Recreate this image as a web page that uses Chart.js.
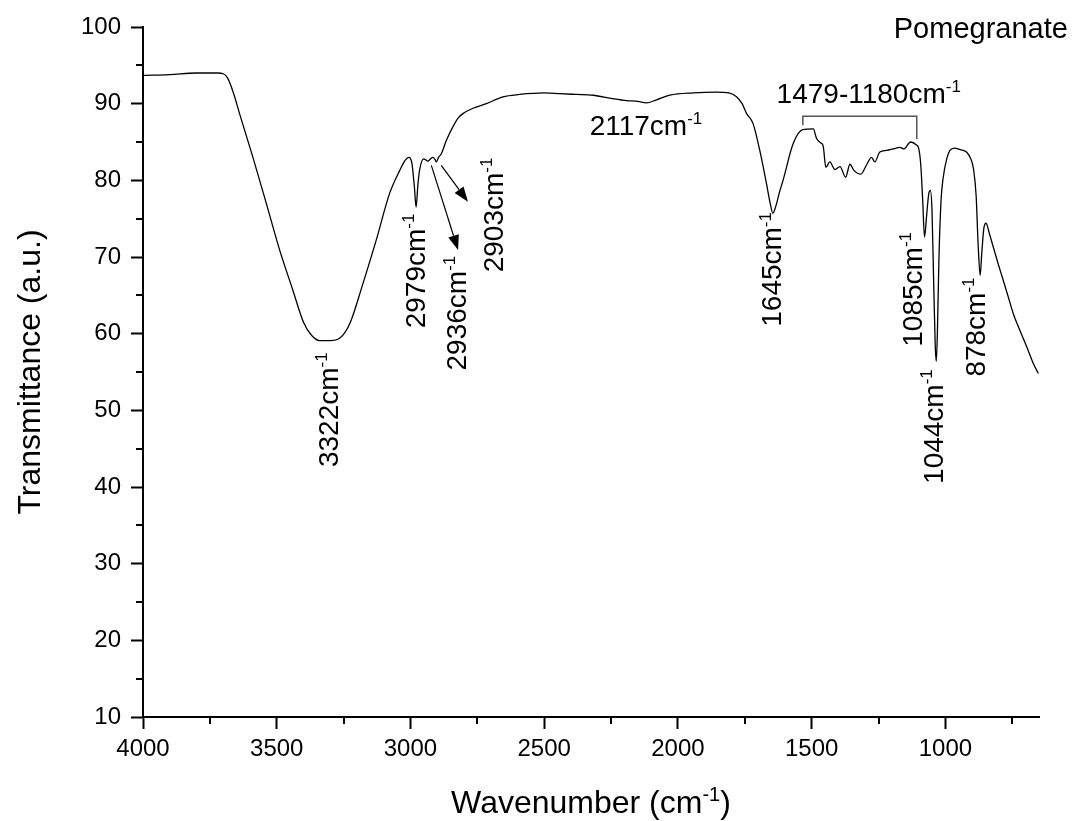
<!DOCTYPE html>
<html>
<head>
<meta charset="utf-8">
<script src="https://cdn.jsdelivr.net/npm/chart.js@4"></script>
<style>
  body { margin: 0; background: #fff; }
  #wrap { width: 1075px; height: 821px; }
</style>
</head>
<body>
<div id="wrap"><canvas id="ftir" width="1075" height="821"></canvas></div>
<script>
// FTIR spectrum
var wavenumber = [
  4000, 3900, 3800, 3720, 3700, 3683, 3660, 3639, 3589, 3539, 3489, 3440, 3400, 3370, 3340, 3300,
  3265, 3227, 3178, 3128, 3078, 3040, 3020, 3006, 2995, 2985, 2979, 2972, 2966, 2951, 2940, 2935,
  2925, 2916, 2908, 2903, 2895, 2884, 2866, 2841, 2820, 2804, 2766, 2716, 2654, 2592, 2500, 2442,
  2380, 2317, 2250, 2192, 2150, 2118, 2080, 2030, 1943, 1856, 1810, 1781, 1760, 1743, 1719, 1694,
  1669, 1655, 1645, 1635, 1620, 1607, 1569, 1533, 1494, 1482, 1467, 1457, 1447, 1432, 1413, 1394,
  1373, 1357, 1342, 1316, 1295, 1276, 1264, 1245, 1220, 1195, 1170, 1155, 1130, 1108, 1100, 1092,
  1085, 1078, 1070, 1062, 1056, 1050, 1044, 1038, 1034, 1030, 1024, 1016, 1008, 995, 983, 965,
  945, 921, 905, 895, 885, 878, 870, 864, 856, 848, 835, 821, 800, 784, 765, 746,
  720, 696, 670, 652
];
var transmittance = [
  93.7, 93.8, 94.0, 94.0, 93.9, 93.3, 91.2, 88.7, 83.0, 77.0, 70.9, 65.7, 61.5, 59.8, 59.1, 59.1,
  59.4, 61.3, 66.5, 72.2, 78.3, 81.3, 82.6, 83.0, 82.3, 79.0, 76.5, 79.5, 81.3, 82.8, 82.6, 82.5,
  82.8, 83.0, 82.7, 82.4, 83.0, 83.5, 85.2, 87.0, 88.2, 88.7, 89.4, 90.0, 90.9, 91.2, 91.4, 91.3,
  91.2, 91.1, 90.7, 90.4, 90.3, 90.1, 90.5, 91.1, 91.4, 91.5, 91.4, 90.9, 90.0, 88.7, 87.4, 83.9,
  79.6, 77.0, 75.7, 76.5, 78.5, 80.0, 84.8, 86.6, 86.7, 85.5, 84.9, 84.5, 81.7, 82.4, 81.4, 81.8,
  80.4, 82.1, 81.3, 80.8, 82.0, 83.0, 82.4, 83.7, 83.9, 84.1, 84.3, 84.1, 85.0, 84.6, 84.2, 82.0,
  77.5, 72.6, 75.5, 78.3, 78.7, 76.0, 67.0, 58.5, 56.4, 60.0, 70.0, 77.5, 80.4, 82.8, 83.9, 84.2,
  84.0, 83.7, 82.8, 81.5, 78.0, 72.0, 67.6, 70.5, 73.8, 74.4, 73.0, 71.3, 68.8, 67.0, 64.8, 62.6,
  60.3, 58.3, 56.0, 54.8
];

var xMajorTicks = [4000, 3500, 3000, 2500, 2000, 1500, 1000];
var xMinorTicks = [3750, 3250, 2750, 2250, 1750, 1250, 750];
var yMajorTicks = [10, 20, 30, 40, 50, 60, 70, 80, 90, 100];
var yMinorTicks = [15, 25, 35, 45, 55, 65, 75, 85, 95];

// peak labels (rotated), anchored at baseline start in data units
var peakNames = ['3322', '2979', '2936', '2903', '1645', '1085', '1044', '878'];
var peakLabelWn = [3271, 2947, 2791, 2654, 1613, 1089, 1008, 852];
var peakLabelT = [42.6, 60.7, 55.2, 68.0, 60.9, 58.3, 40.4, 54.4];

var FONT = '"Liberation Sans", Arial, sans-serif';

function drawParts(ctx, parts, x, y, size, angle, align) {
  var supSize = Math.round(size * 0.62);
  var widths = parts.map(function (p) {
    ctx.font = (p.sup ? supSize : size) + 'px ' + FONT;
    return ctx.measureText(p.t).width;
  });
  var total = widths.reduce(function (a, b) { return a + b; }, 0);
  var cx = align === 'center' ? -total / 2 : (align === 'right' ? -total : 0);
  ctx.save();
  ctx.translate(x, y);
  ctx.rotate(angle);
  ctx.fillStyle = '#000';
  ctx.textAlign = 'left';
  ctx.textBaseline = 'alphabetic';
  parts.forEach(function (p, i) {
    ctx.font = (p.sup ? supSize : size) + 'px ' + FONT;
    ctx.fillText(p.t, cx, p.sup ? -size * 0.39 : 0);
    cx += widths[i];
  });
  ctx.restore();
}

function arrow(ctx, x1, y1, x2, y2) {
  var a = Math.atan2(y2 - y1, x2 - x1);
  var len = 15, half = 5.5;
  var bx = x2 - len * Math.cos(a), by = y2 - len * Math.sin(a);
  ctx.beginPath();
  ctx.moveTo(x1, y1);
  ctx.lineTo(bx, by);
  ctx.stroke();
  ctx.beginPath();
  ctx.moveTo(x2, y2);
  ctx.lineTo(bx + half * Math.sin(a), by - half * Math.cos(a));
  ctx.lineTo(bx - half * Math.sin(a), by + half * Math.cos(a));
  ctx.closePath();
  ctx.fill();
}

var overlay = {
  id: 'overlay',
  afterDraw: function (chart) {
    var ctx = chart.ctx;
    var xs = chart.scales.x, ys = chart.scales.y;
    var area = chart.chartArea;

    // minor ticks
    ctx.save();
    ctx.strokeStyle = '#000';
    ctx.lineWidth = 2;
    xMinorTicks.forEach(function (v) {
      var px = Math.round(xs.getPixelForValue(v));
      ctx.beginPath();
      ctx.moveTo(px, area.bottom);
      ctx.lineTo(px, area.bottom + 7);
      ctx.stroke();
    });
    yMinorTicks.forEach(function (v) {
      var py = Math.round(ys.getPixelForValue(v));
      ctx.beginPath();
      ctx.moveTo(area.left, py);
      ctx.lineTo(area.left - 7, py);
      ctx.stroke();
    });
    ctx.restore();

    // axis titles
    drawParts(ctx, [{ t: 'Transmittance (a.u.)' }], 40, (area.top + area.bottom) / 2, 32, -Math.PI / 2, 'center');
    drawParts(ctx, [{ t: 'Wavenumber (cm' }, { t: '-1', sup: true }, { t: ')' }],
      (area.left + area.right) / 2, 813, 32, 0, 'center');

    // sample name
    drawParts(ctx, [{ t: 'Pomegranate' }], xs.getPixelForValue(542), ys.getPixelForValue(98.6), 29, 0, 'right');

    // peak labels
    for (var i = 0; i < peakNames.length; i++) {
      drawParts(ctx, [{ t: peakNames[i] + 'cm' }, { t: '-1', sup: true }],
        xs.getPixelForValue(peakLabelWn[i]), ys.getPixelForValue(peakLabelT[i]), 28, -Math.PI / 2, 'left');
    }
    drawParts(ctx, [{ t: '2117cm' }, { t: '-1', sup: true }],
      xs.getPixelForValue(2330), ys.getPixelForValue(85.9), 28, 0, 'left');
    drawParts(ctx, [{ t: '1479-1180cm' }, { t: '-1', sup: true }],
      xs.getPixelForValue(1631), ys.getPixelForValue(90.1), 28, 0, 'left');

    // bracket over 1479-1180 region
    ctx.save();
    ctx.strokeStyle = '#555';
    ctx.lineWidth = 1.5;
    ctx.beginPath();
    ctx.moveTo(xs.getPixelForValue(1533), ys.getPixelForValue(87.2));
    ctx.lineTo(xs.getPixelForValue(1533), ys.getPixelForValue(88.35));
    ctx.lineTo(xs.getPixelForValue(1107), ys.getPixelForValue(88.35));
    ctx.lineTo(xs.getPixelForValue(1107), ys.getPixelForValue(85.35));
    ctx.stroke();
    ctx.restore();

    // arrows to 2936 / 2903
    ctx.save();
    ctx.strokeStyle = '#000';
    ctx.fillStyle = '#000';
    ctx.lineWidth = 1.2;
    arrow(ctx, xs.getPixelForValue(2922), ys.getPixelForValue(81.96), xs.getPixelForValue(2822), ys.getPixelForValue(70.9));
    arrow(ctx, xs.getPixelForValue(2885), ys.getPixelForValue(81.96), xs.getPixelForValue(2785), ys.getPixelForValue(77.2));
    ctx.restore();
  }
};

var points = wavenumber.map(function (w, i) { return { x: w, y: transmittance[i] }; });

var ctx = document.getElementById('ftir').getContext('2d');
var chart = new Chart(ctx, {
  type: 'line',
  data: {
    datasets: [{
      label: 'Pomegranate',
      data: points,
      borderColor: '#000',
      borderWidth: 1.3,
      pointRadius: 0,
      fill: false,
      cubicInterpolationMode: 'monotone'
    }]
  },
  options: {
    responsive: false,
    animation: false,
    layout: { padding: { top: 27, right: 36, left: 0, bottom: 0 } },
    plugins: { legend: { display: false }, tooltip: { enabled: false } },
    scales: {
      x: {
        type: 'linear',
        reverse: true,
        min: 650,
        max: 4000,
        afterFit: function (scale) { scale.height = 104; },
        afterBuildTicks: function (scale) {
          scale.ticks = xMajorTicks.map(function (v) { return { value: v }; });
        },
        grid: { display: true, drawOnChartArea: false, tickLength: 12, tickWidth: 2, tickColor: '#000' },
        border: { display: true, color: '#000', width: 2 },
        ticks: {
          color: '#000', font: { family: FONT, size: 24 }, padding: 6, maxRotation: 0,
          callback: function (v) { return String(v); }
        }
      },
      y: {
        min: 10,
        max: 100,
        afterFit: function (scale) { scale.width = 143; },
        afterBuildTicks: function (scale) {
          scale.ticks = yMajorTicks.map(function (v) { return { value: v }; });
        },
        grid: { display: true, drawOnChartArea: false, tickLength: 12, tickWidth: 2, tickColor: '#000' },
        border: { display: true, color: '#000', width: 2 },
        ticks: {
          color: '#000', font: { family: FONT, size: 24 }, padding: 10,
          callback: function (v) { return String(v); }
        }
      }
    }
  },
  plugins: [overlay]
});
</script>
</body>
</html>
